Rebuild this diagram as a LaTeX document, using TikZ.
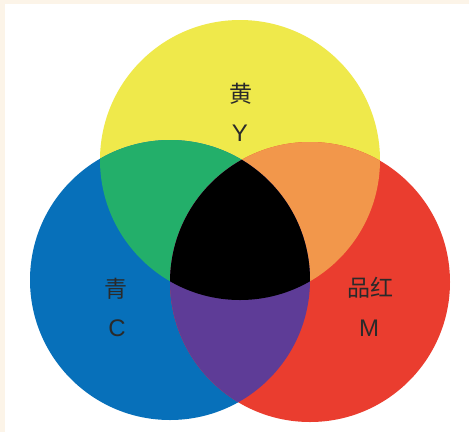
\documentclass[tikz,border=0pt]{standalone}
\usepackage{fontspec}
\setmainfont{Liberation Sans}
\newfontfamily\cjkfont{Noto Sans CJK SC}
\usepackage{tikz}
\usetikzlibrary{positioning}
\definecolor{pagebeige}{HTML}{FCF4E8}
\definecolor{inkyellow}{HTML}{EFE94B}
\definecolor{inkcyan}{HTML}{0770BA}
\definecolor{inkmagenta}{HTML}{EA3D2F}
\definecolor{mixgreen}{HTML}{23AF6A}
\definecolor{mixorange}{HTML}{F2974B}
\definecolor{mixpurple}{HTML}{5E3C97}
\definecolor{labelgray}{HTML}{2A2A2A}

\begin{document}
\begin{tikzpicture}[
    x=1pt, y=-1pt,
    cjklabel/.style={font=\cjkfont\fontsize{23}{28}\selectfont, text=labelgray, inner sep=0pt},
    letterlabel/.style={font=\fontsize{24}{28}\selectfont, text=labelgray, inner sep=0pt},
]
  % page and white panel
  \fill[pagebeige] (0,0) rectangle (469,432);
  \fill[white] (5,4) rectangle (469,432);
  \useasboundingbox (0,0) rectangle (469,432);

  % the three ink circles
  \def\yelpath{(240,160) circle[radius=140]}
  \def\cyapath{(170,280) circle[radius=140]}
  \def\magpath{(310,282) circle[radius=140]}
  \fill[inkyellow] \yelpath;
  \fill[inkcyan] \cyapath;
  \fill[inkmagenta] \magpath;

  % two-ink overlaps
  \begin{scope}
    \clip \yelpath;
    \fill[mixgreen] \cyapath;
    \fill[mixorange] \magpath;
  \end{scope}
  \begin{scope}
    \clip \cyapath;
    \fill[mixpurple] \magpath;
  \end{scope}
  % all three
  \begin{scope}
    \clip \yelpath;
    \clip \cyapath;
    \fill[black] \magpath;
  \end{scope}

  % labels
  \node[cjklabel] (yname) at (241,94) {黄};
  \node[letterlabel] (yletter) at (240,133) {Y};
  \node[cjklabel] (cname) at (116,289) {青};
  \node[letterlabel] (cletter) at (117,328) {C};
  \node[cjklabel] (mname) at (370,288) {品红};
  \node[letterlabel] (mletter) at (369,328) {M};
\end{tikzpicture}
\end{document}
